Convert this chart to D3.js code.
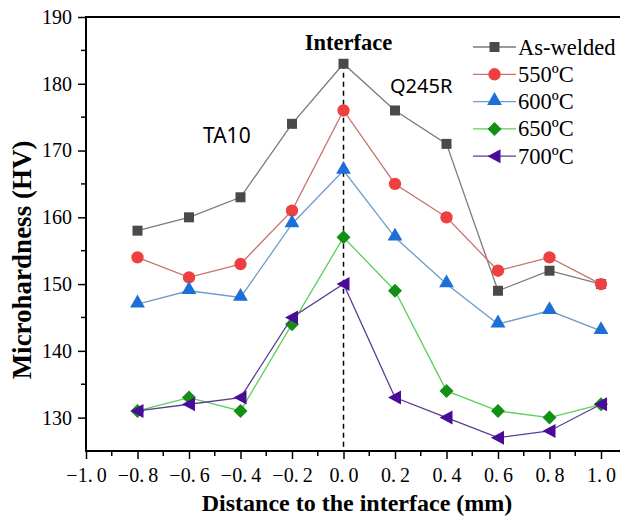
<!DOCTYPE html>
<html>
<head>
	<script src="https://cdn.jsdelivr.net/npm/d3@7"></script>
	<style>
		html, body {
			padding: 0;
			margin: 0;
			background: white;
		}
	</style>
</head>
<body>
	<script>
		// ~ ~ ~ DATA ~ ~ ~
		const distances = [-0.8, -0.6, -0.4, -0.2, 0.0, 0.2, 0.4, 0.6, 0.8, 1.0];
		const seriesNames = ["As-welded", "550ºC", "600ºC", "650ºC", "700ºC"];
		const asWelded = [158, 160, 163, 174, 183, 176, 171, 149, 152, 150];
		const t550 = [154, 151, 153, 161, 176, 165, 160, 152, 154, 150];
		const t600 = [147, 149, 148, 159, 167, 157, 150, 144, 146, 143];
		const t650 = [131, 133, 131, 144, 157, 149, 134, 131, 130, 132];
		const t700 = [131, 132, 133, 145, 150, 133, 130, 127, 128, 132];
		const xTicks = [-1.0, -0.8, -0.6, -0.4, -0.2, 0.0, 0.2, 0.4, 0.6, 0.8, 1.0];
		const yTicks = [130, 140, 150, 160, 170, 180, 190];

		// ~ ~ ~ STYLE ~ ~ ~
		const LINE_COLORS = ["#7a7a7a", "#c9746e", "#6f9ccb", "#5ccf5c", "#5b3d90"];
		const MARKER_COLORS = ["#4a4a4a", "#ee4040", "#1c6fd6", "#138f13", "#4a0c98"];
		const MARKERS = ["square", "circle", "triangle", "diamond", "left"];
		const SERIF = "'Liberation Serif', 'Times New Roman', serif";

		var width = 620, height = 519;
		var svg = d3.select("body").append("svg")
			.attr("width", width)
			.attr("height", height);

		var x = d3.scaleLinear().domain([-1, 1]).range([86, 601]);
		var y = d3.scaleLinear().domain([125, 190]).range([451, 17]);

		// axes
		var xAxis = d3.axisBottom(x).tickValues(xTicks).tickSize(8)
			.tickFormat(d => d3.format(".1f")(d).replace("-", "\u2212").replace(".", ".\u2009"));
		var gx = svg.append("g").attr("transform", "translate(0," + y(125) + ")").call(xAxis);
		gx.select(".domain").remove();
		gx.attr("font-family", null).attr("font-size", null);
		gx.selectAll("text")
			.attr("y", 17)
			.attr("dy", "0.71em")
			.style("font-family", SERIF)
			.style("font-size", "20px");
		var xMinor = d3.range(-0.9, 1.0, 0.2);
		svg.append("g").selectAll("line").data(xMinor).enter().append("line")
			.attr("x1", d => x(d)).attr("x2", d => x(d))
			.attr("y1", y(125)).attr("y2", y(125) + 5)
			.attr("stroke", "black").attr("stroke-width", 1.5);

		var yAxis = d3.axisLeft(y).tickValues(yTicks).tickSize(8);
		var gy = svg.append("g").attr("transform", "translate(" + x(-1) + ",0)").call(yAxis);
		gy.select(".domain").remove();
		gy.attr("font-family", null).attr("font-size", null);
		gy.selectAll("text")
			.attr("x", -14)
			.style("font-family", SERIF)
			.style("font-size", "20px");
		svg.append("g").selectAll("line").data([135, 145, 155, 165, 175, 185]).enter().append("line")
			.attr("x1", x(-1) - 5).attr("x2", x(-1))
			.attr("y1", d => y(d)).attr("y2", d => y(d))
			.attr("stroke", "black").attr("stroke-width", 1.5);
		svg.selectAll(".tick line").attr("stroke-width", 1.5);

		// frame lines
		svg.append("line").attr("x1", x(-1)).attr("x2", width).attr("y1", y(125)).attr("y2", y(125))
			.attr("stroke", "black").attr("stroke-width", 2);
		svg.append("line").attr("x1", x(-1)).attr("x2", width).attr("y1", y(190)).attr("y2", y(190))
			.attr("stroke", "black").attr("stroke-width", 2);
		svg.append("line").attr("x1", x(-1)).attr("x2", x(-1)).attr("y1", y(190) - 1).attr("y2", y(125) + 1)
			.attr("stroke", "black").attr("stroke-width", 2);

		// axis titles
		svg.append("text")
			.attr("transform", "translate(31,260) rotate(-90)")
			.attr("text-anchor", "middle")
			.style("font-family", SERIF)
			.style("font-weight", "bold")
			.style("font-size", "27px")
			.text("Microhardness (HV)");
		svg.append("text")
			.attr("x", 357).attr("y", 511)
			.attr("text-anchor", "middle")
			.style("font-family", SERIF)
			.style("font-weight", "bold")
			.style("font-size", "24px")
			.text("Distance to the interface (mm)");

		// interface dashed line
		svg.append("line")
			.attr("x1", x(0)).attr("x2", x(0))
			.attr("y1", y(183)).attr("y2", y(125))
			.attr("stroke", "black").attr("stroke-width", 1.5)
			.attr("stroke-dasharray", "5,4");

		// annotations
		svg.append("text").attr("x", x(0) + 5).attr("y", 50).attr("text-anchor", "middle")
			.style("font-family", SERIF).style("font-weight", "bold")
			.style("font-size", "22.5px").text("Interface");
		svg.append("text").attr("x", 390).attr("y", 93)
			.style("font-family", "'Noto Sans', sans-serif")
			.style("font-size", "20px").text("Q245R");
		svg.append("text").attr("x", 203).attr("y", 143)
			.style("font-family", "'Noto Sans', sans-serif")
			.style("font-size", "21px").text("TA10");

		var symbolFor = function(kind) {
			if (kind === "square") return d3.symbol().type(d3.symbolSquare).size(100)();
			if (kind === "circle") return d3.symbol().type(d3.symbolCircle).size(120)();
			if (kind === "triangle") return d3.symbol().type(d3.symbolTriangle).size(95)();
			if (kind === "diamond") return "M0,-7L7,0L0,7L-7,0Z";
			return "M-7,0L6,-7L6,7Z";
		};
		var markerShift = function(kind) {
			return kind === "triangle" ? -1 : 0;
		};

		var allSeries = [asWelded, t550, t600, t650, t700];
		var line = d3.line().x((d, i) => x(distances[i])).y(d => y(d));

		allSeries.forEach(function(vals, s) {
			var g = svg.append("g");
			g.append("path").datum(vals)
				.attr("d", line)
				.attr("fill", "none")
				.attr("stroke", LINE_COLORS[s])
				.attr("stroke-width", 1.3);
			g.selectAll("path.m").data(vals).enter().append("path")
				.attr("class", "m")
				.attr("d", symbolFor(MARKERS[s]))
				.attr("transform", (d, i) => "translate(" + x(distances[i]) + "," + (y(d) + markerShift(MARKERS[s])) + ")")
				.attr("fill", MARKER_COLORS[s]);
		});

		// legend
		var legend = svg.append("g");
		seriesNames.forEach(function(name, s) {
			var ly = 47 + s * 27.3;
			legend.append("line").attr("x1", 473).attr("x2", 516).attr("y1", ly).attr("y2", ly)
				.attr("stroke", LINE_COLORS[s]).attr("stroke-width", 1.3);
			legend.append("path").attr("d", symbolFor(MARKERS[s]))
				.attr("transform", "translate(494.5," + (ly + markerShift(MARKERS[s])) + ")")
				.attr("fill", MARKER_COLORS[s]);
			legend.append("text").attr("x", 518).attr("y", ly + 7.5)
				.style("font-family", SERIF)
				.style("font-size", "22.5px")
				.text(name);
		});
	</script>
</body>
</html>
